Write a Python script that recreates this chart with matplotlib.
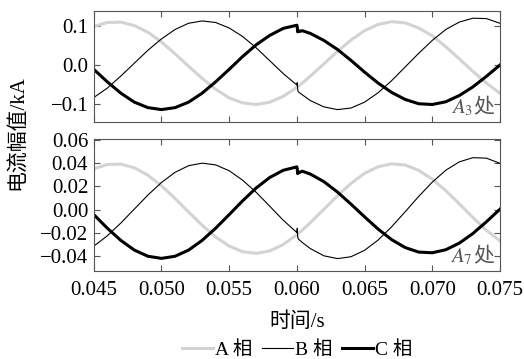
import matplotlib
matplotlib.use('Agg')
import matplotlib.pyplot as plt
from matplotlib.ticker import FuncFormatter, MultipleLocator

# time points (s), extra points around the fault at 0.060 s
t = [0.045, 0.046, 0.047, 0.048, 0.049, 0.050, 0.051, 0.052, 0.053, 0.054,
     0.055, 0.056, 0.057, 0.058, 0.059, 0.060, 0.06003, 0.06006, 0.0601, 0.0602,
     0.0604, 0.061, 0.062, 0.063, 0.064, 0.065, 0.066, 0.067, 0.068, 0.069,
     0.070, 0.071, 0.072, 0.073, 0.074, 0.075]

# A3 (kA)
a3 = [0.099, 0.109, 0.110, 0.101, 0.084, 0.059, 0.029, -0.003, -0.034, -0.062,
      -0.084, -0.097, -0.101, -0.095, -0.080, -0.057, -0.056, -0.055, -0.054, -0.052,
      -0.046, -0.028, 0.003, 0.035, 0.064, 0.088, 0.104, 0.111, 0.108, 0.095,
      0.075, 0.047, 0.016, -0.016, -0.046, -0.072]
b3 = [-0.083, -0.059, -0.028, 0.005, 0.038, 0.067, 0.091, 0.107, 0.113, 0.109,
      0.095, 0.073, 0.044, 0.011, -0.022, -0.051, -0.045, -0.062, -0.068, -0.071,
      -0.076, -0.091, -0.107, -0.114, -0.110, -0.095, -0.071, -0.040, -0.005, 0.030,
      0.063, 0.091, 0.110, 0.120, 0.119, 0.107]
c3 = [-0.011, -0.043, -0.072, -0.095, -0.109, -0.114, -0.109, -0.095, -0.072, -0.043,
      -0.011, 0.022, 0.052, 0.076, 0.094, 0.102, 0.097, 0.085, 0.089, 0.086,
      0.088, 0.081, 0.063, 0.040, 0.012, -0.018, -0.046, -0.070, -0.088, -0.099,
      -0.101, -0.094, -0.078, -0.056, -0.029, 0.000]

# A7 (kA)
a7 = [0.0350, 0.0389, 0.0392, 0.0360, 0.0296, 0.0206, 0.0097, -0.0019, -0.0133, -0.0234,
      -0.0312, -0.0361, -0.0375, -0.0354, -0.0299, -0.0215, -0.0212, -0.0210, -0.0206, -0.0196,
      -0.0176, -0.0111, 0.0004, 0.0120, 0.0226, 0.0312, 0.0369, 0.0394, 0.0384, 0.0338,
      0.0263, 0.0164, 0.0051, -0.0066, -0.0176, -0.0268]
b7 = [-0.0313, -0.0224, -0.0114, 0.0006, 0.0126, 0.0234, 0.0321, 0.0378, 0.0400, 0.0385,
      0.0335, 0.0253, 0.0149, 0.0030, -0.0091, -0.0196, -0.0160, -0.0230, -0.0250, -0.0261,
      -0.0281, -0.0334, -0.0396, -0.0420, -0.0404, -0.0349, -0.0261, -0.0147, -0.0018, 0.0114,
      0.0236, 0.0339, 0.0411, 0.0447, 0.0443, 0.0399]
c7 = [-0.0042, -0.0159, -0.0264, -0.0347, -0.0400, -0.0418, -0.0400, -0.0347, -0.0264, -0.0159,
      -0.0042, 0.0077, 0.0187, 0.0277, 0.0339, 0.0368, 0.0350, 0.0310, 0.0325, 0.0320,
      0.0331, 0.0306, 0.0241, 0.0152, 0.0048, -0.0061, -0.0166, -0.0257, -0.0325, -0.0364,
      -0.0370, -0.0344, -0.0287, -0.0205, -0.0104, 0.0004]

phase_labels = ['A 相', 'B 相', 'C 相']
place_labels = ['$A_3$', '$A_7$']

plt.rcParams['font.family'] = ['Liberation Serif', 'Noto Sans CJK SC']
plt.rcParams['mathtext.fontset'] = 'stix'
plt.rcParams['font.size'] = 15

fig = plt.figure(figsize=(5.24, 3.59), dpi=100)
ax1 = fig.add_axes([0.179, 0.661, 0.775, 0.309])
ax2 = fig.add_axes([0.179, 0.244, 0.775, 0.368])

minus = lambda s: s.replace('-', '\u2212')
for ax, a, b, c, place in [(ax1, a3, b3, c3, place_labels[0]), (ax2, a7, b7, c7, place_labels[1])]:
    ax.plot(t, a, color='#d3d3d3', lw=2.2, label=phase_labels[0])
    ax.plot(t, b, color='black', lw=0.8, label=phase_labels[1])
    ax.plot(t, c, color='black', lw=2.2, label=phase_labels[2])
    ax.set_xlim(0.045, 0.075)
    ax.xaxis.set_major_locator(MultipleLocator(0.005))
    ax.tick_params(direction='in', top=True, right=True, length=4, color='#555555', pad=7)
    ax.tick_params(axis='y', pad=4)
    for s in ax.spines.values():
        s.set_color('#555555')
    ax.text(0.985, 0.03, '处', transform=ax.transAxes, ha='right', va='bottom', color='#555555')
    ax.text(0.933, 0.03, place, transform=ax.transAxes, ha='right', va='bottom', color='#555555')

ax1.set_ylim(-0.145, 0.139)
ax1.yaxis.set_major_locator(MultipleLocator(0.1))
ax1.yaxis.set_major_formatter(FuncFormatter(lambda v, p: minus(f'{v:.1f}')))
ax1.tick_params(labelbottom=False)

ax2.set_ylim(-0.053, 0.0605)
ax2.yaxis.set_major_locator(MultipleLocator(0.02))
ax2.yaxis.set_major_formatter(FuncFormatter(lambda v, p: minus(f'{v:.2f}')))
ax2.xaxis.set_major_formatter(FuncFormatter(lambda v, p: f'{v:.3f}'))
ax2.set_xlabel('时间/s', labelpad=9)

fig.text(0.035, 0.63, '电流幅值/kA', rotation=90, ha='center', va='center')

h, l = ax2.get_legend_handles_labels()
fig.legend(h, l, loc='center', bbox_to_anchor=(0.567, 0.025), ncol=3, frameon=False,
           handlelength=1.6, handletextpad=0.1, columnspacing=0.5, fontsize=14)

fig.savefig('out.png', dpi=100)
